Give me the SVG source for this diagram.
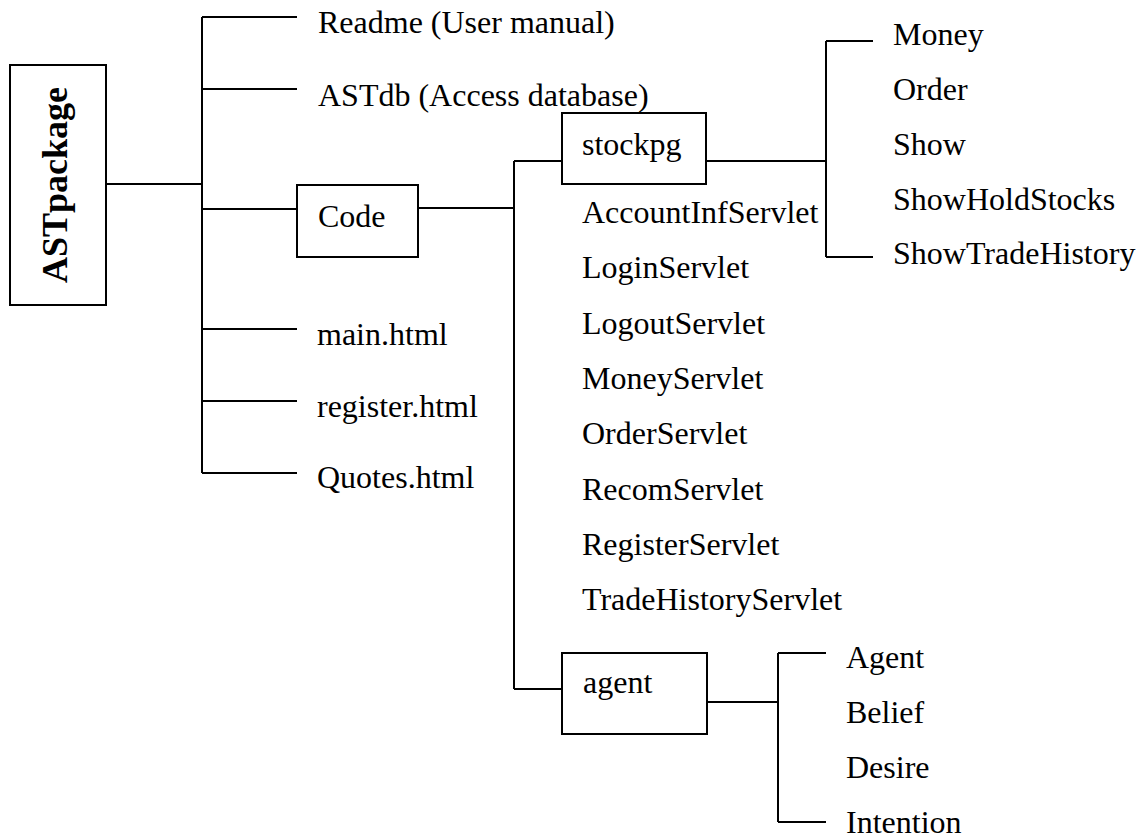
<svg xmlns="http://www.w3.org/2000/svg" width="1146" height="838" viewBox="0 0 1146 838">
<style>
.box{fill:#fff;stroke:#000;stroke-width:2}
.ln{fill:none;stroke:#000;stroke-width:2}
text{font-family:"Liberation Serif","Times New Roman",serif;font-size:32px;fill:#000}
.bold{font-weight:bold;font-size:36px}
</style>
<rect width="1146" height="838" fill="#fff"/>
<g id="connectors">
<path class="ln" d="M106,184H202M202,17V473M202,17H297M202,89H297M202,209H297M202,329H297M202,401H297M202,473H297"/>
<path class="ln" d="M418,208H514M514,161V689M514,161H562M514,689H562"/>
<path class="ln" d="M706,161H826M826,41V257M826,41H873M826,257H873"/>
<path class="ln" d="M707,702H778M778,653V822M778,653H826M778,822H826"/>
</g>
<g id="astpackage"><rect class="box" x="10" y="65" width="96" height="240"/><text class="bold" text-anchor="middle" transform="translate(67,185) rotate(-90)">ASTpackage</text></g>
<g id="readme"><text x="318" y="33">Readme (User manual)</text></g>
<g id="astdb"><text x="318" y="106">ASTdb (Access database)</text></g>
<g id="code"><rect class="box" x="297" y="185" width="121" height="72"/><text x="318" y="227">Code</text></g>
<g id="main"><text x="317" y="345">main.html</text></g>
<g id="register"><text x="317" y="417">register.html</text></g>
<g id="quotes"><text x="317" y="488">Quotes.html</text></g>
<g id="stockpg"><rect class="box" x="562" y="113" width="144" height="71"/><text x="582" y="155">stockpg</text></g>
<g id="servlets">
<text x="582" y="223">AccountInfServlet</text>
<text x="582" y="278">LoginServlet</text>
<text x="582" y="334">LogoutServlet</text>
<text x="582" y="389">MoneyServlet</text>
<text x="582" y="444">OrderServlet</text>
<text x="582" y="500">RecomServlet</text>
<text x="582" y="555">RegisterServlet</text>
<text x="582" y="610">TradeHistoryServlet</text>
</g>
<g id="stockpg-items">
<text x="893" y="45">Money</text>
<text x="893" y="100">Order</text>
<text x="893" y="155">Show</text>
<text x="893" y="210">ShowHoldStocks</text>
<text x="893" y="264">ShowTradeHistory</text>
</g>
<g id="agent"><rect class="box" x="562" y="653" width="145" height="81"/><text x="583" y="693">agent</text></g>
<g id="agent-items">
<text x="846" y="668">Agent</text>
<text x="846" y="723">Belief</text>
<text x="846" y="778">Desire</text>
<text x="846" y="833">Intention</text>
</g>
</svg>
